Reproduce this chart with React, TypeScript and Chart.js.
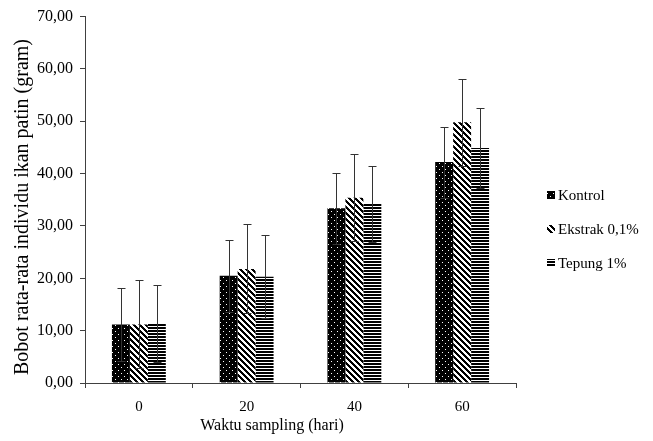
import React, { useEffect, useRef } from "react";
import { Chart, registerables } from "chart.js";

Chart.register(...registerables);

const categories = ["0", "20", "40", "60"];
const seriesNames = ["Kontrol", "Ekstrak 0,1%", "Tepung 1%"];
const kontrol = [11.2, 20.5, 33.4, 42.2];
const kontrolSd = [7.0, 6.9, 6.8, 6.8];
const ekstrak = [11.2, 21.8, 35.4, 49.8];
const ekstrakSd = [8.4, 8.5, 8.3, 8.3];
const tepung = [11.4, 20.3, 34.2, 44.9];
const tepungSd = [7.4, 7.9, 7.3, 7.7];
const yTitle = "Bobot rata-rata individu ikan patin (gram)";
const xTitle = "Waktu sampling (hari)";

const FONT = '"Liberation Serif", "Times New Roman", serif';

function makePattern(kind: string): CanvasPattern | string {
  const c = document.createElement("canvas");
  const size = kind === "lines" ? 3 : 6;
  c.width = size;
  c.height = size;
  const g = c.getContext("2d");
  if (!g) return "#000";
  if (kind === "dots") {
    g.fillStyle = "#000";
    g.fillRect(0, 0, size, size);
    g.fillStyle = "#fff";
    g.fillRect(1, 1, 1, 1);
    g.fillRect(4, 4, 1, 1);
  } else if (kind === "diag") {
    g.fillStyle = "#fff";
    g.fillRect(0, 0, size, size);
    g.fillStyle = "#000";
    for (let x = 0; x < size; x++) {
      for (let y = 0; y < size; y++) {
        if ((((x - y) % 6) + 6) % 6 < 3) g.fillRect(x, y, 1, 1);
      }
    }
  } else {
    g.fillStyle = "#fff";
    g.fillRect(0, 0, size, size);
    g.fillStyle = "#000";
    g.fillRect(0, 0, size, 2);
  }
  const p = g.createPattern(c, "repeat");
  return p || "#000";
}

export default function App() {
  const ref = useRef<HTMLCanvasElement | null>(null);

  useEffect(() => {
    const canvas = ref.current;
    if (!canvas) return;
    const patterns = [makePattern("dots"), makePattern("diag"), makePattern("lines")];
    const values = [kontrol, ekstrak, tepung];
    const sds = [kontrolSd, ekstrakSd, tepungSd];

    const errorBars = {
      id: "errorBars",
      afterDatasetsDraw(chart: any) {
        const ctx = chart.ctx;
        const ys = chart.scales.y;
        ctx.save();
        ctx.strokeStyle = "#333";
        ctx.lineWidth = 1;
        chart.data.datasets.forEach((_ds: any, i: number) => {
          const meta = chart.getDatasetMeta(i);
          meta.data.forEach((bar: any, j: number) => {
            const v = values[i][j];
            const s = sds[i][j];
            const x = Math.round(bar.x) + 0.5;
            const yt = Math.round(ys.getPixelForValue(v + s)) + 0.5;
            const yb = Math.round(ys.getPixelForValue(v - s)) + 0.5;
            ctx.beginPath();
            ctx.moveTo(x, yt);
            ctx.lineTo(x, yb);
            ctx.moveTo(x - 4, yt);
            ctx.lineTo(x + 4, yt);
            ctx.moveTo(x - 4, yb);
            ctx.lineTo(x + 4, yb);
            ctx.stroke();
          });
        });
        ctx.restore();
      },
    };

    const decor = {
      id: "decor",
      afterDraw(chart: any) {
        const ctx = chart.ctx;
        const area = chart.chartArea;
        ctx.save();
        ctx.fillStyle = "#000";
        // y title
        ctx.save();
        ctx.font = `20px ${FONT}`;
        ctx.textAlign = "center";
        ctx.textBaseline = "middle";
        ctx.translate(23, 207);
        ctx.rotate(-Math.PI / 2);
        ctx.fillText(yTitle, 0, 0);
        ctx.restore();
        // x title
        ctx.font = `16px ${FONT}`;
        ctx.textAlign = "center";
        ctx.textBaseline = "middle";
        ctx.fillText(xTitle, 272, 426);
        // legend
        ctx.font = `15px ${FONT}`;
        ctx.textAlign = "left";
        const lx = area.right + 31;
        const rows = [195, 229, 263];
        seriesNames.forEach((name, i) => {
          const cy = rows[i];
          ctx.fillStyle = patterns[i] as any;
          ctx.fillRect(lx, cy - 4, 8, 8);
          ctx.fillStyle = "#000";
          ctx.fillText(name, lx + 11, cy + 1);
        });
        ctx.restore();
      },
    };

    const chart = new Chart(canvas, {
      type: "bar",
      data: {
        labels: categories,
        datasets: seriesNames.map((name, i) => ({
          label: name,
          data: values[i],
          backgroundColor: patterns[i] as any,
          borderWidth: 0,
          categoryPercentage: 0.5,
          barPercentage: 1.0,
        })),
      },
      options: {
        responsive: false,
        animation: false,
        layout: { padding: { top: 15, right: 137, bottom: 0, left: 0 } },
        plugins: {
          legend: { display: false },
          tooltip: { enabled: false },
        },
        scales: {
          x: {
            afterFit: (s: any) => {
              s.height = 58;
            },
            grid: {
              drawOnChartArea: false,
              drawTicks: true,
              tickLength: 5,
              color: "#404040",
              offset: true,
            },
            border: { display: true, color: "#404040", width: 1 },
            ticks: {
              color: "#000",
              font: { family: FONT, size: 15 },
              padding: 10,
            },
          },
          y: {
            min: 0,
            max: 70,
            afterFit: (s: any) => {
              s.width = 85;
            },
            grid: {
              drawOnChartArea: false,
              drawTicks: true,
              tickLength: 5,
              color: "#404040",
            },
            border: { display: true, color: "#404040", width: 1 },
            ticks: {
              stepSize: 10,
              color: "#000",
              font: { family: FONT, size: 16 },
              padding: 7,
              callback: (v: any) => Number(v).toFixed(2).replace(".", ","),
            },
          },
        },
      },
      plugins: [errorBars, decor],
    });
    return () => chart.destroy();
  }, []);

  return (
    <div style={{ position: "absolute", left: 0, top: 0, width: 653, height: 441, background: "#fff" }}>
      <canvas ref={ref} width={653} height={441} style={{ display: "block" }} />
    </div>
  );
}
